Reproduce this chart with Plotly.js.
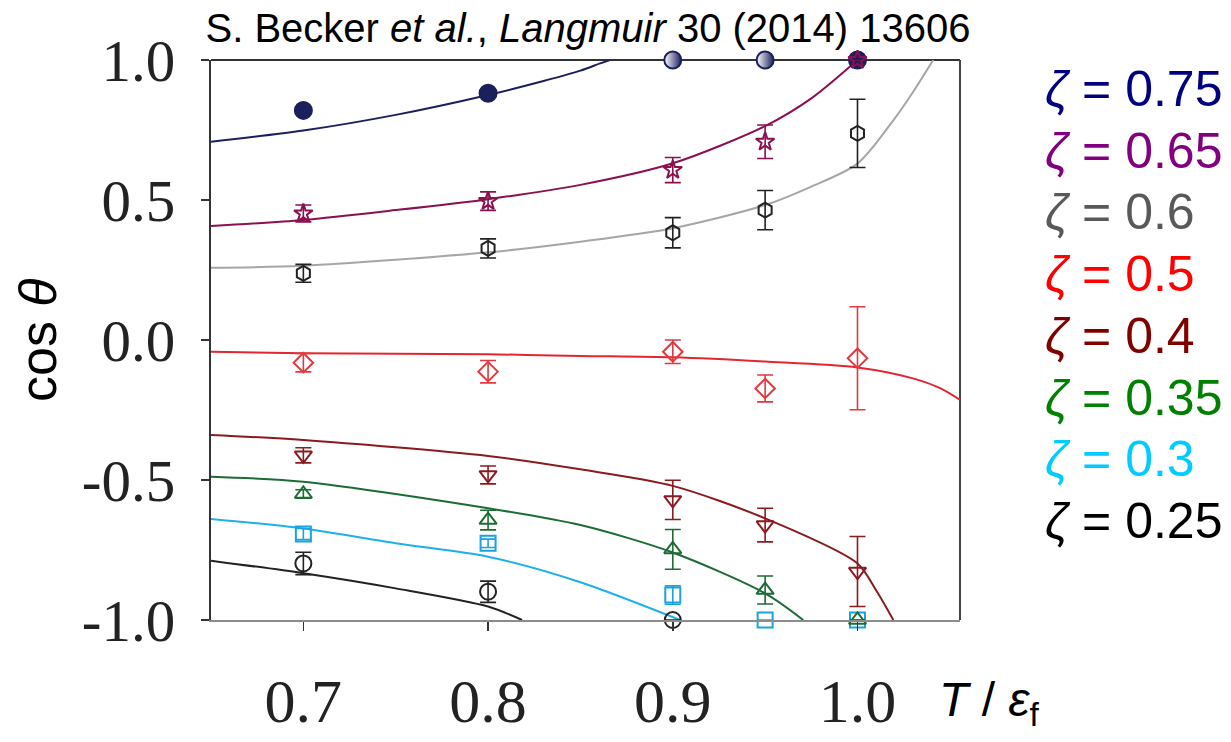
<!DOCTYPE html>
<html>
<head>
<meta charset="utf-8">
<script src="https://cdn.plot.ly/plotly-3.0.1.min.js"></script>
<style>html,body{margin:0;padding:0;background:#fff;}#chart{width:1231px;height:742px;}</style>
</head>
<body>
<div id="chart"></div>
<script>
// ---- data ----
var T_pts = [0.7, 0.8, 0.9, 0.95, 1.0];
var T_pts025 = [0.7, 0.8, 0.9];

var z075_y = [0.82, 0.881, 1.0, 1.0, 1.0];
var z065_y = [0.452, 0.496, 0.607, 0.708, 1.0];
var z065_e = [0.03, 0.033, 0.045, 0.06, 0];
var z060_y = [0.238, 0.327, 0.383, 0.464, 0.738];
var z060_e = [0.032, 0.034, 0.054, 0.07, 0.122];
var z050_y = [-0.081, -0.113, -0.042, -0.173, -0.065];
var z050_e = [0.033, 0.04, 0.042, 0.048, 0.184];
var z040_y = [-0.412, -0.482, -0.571, -0.661, -0.827];
var z040_e = [0.027, 0.032, 0.07, 0.06, 0.125];
var z035_y = [-0.55, -0.643, -0.748, -0.893, -1.0];
var z035_e = [0.015, 0.035, 0.071, 0.05, 0];
var z030_y = [-0.693, -0.726, -0.911, -1.0, -1.0];
var z030_e = [0.02, 0.015, 0.033, 0, 0];
var z025_y = [-0.798, -0.899, -1.0];
var z025_e = [0.04, 0.038, 0];

// fitted curves
var fit075_x = [0.65, 0.7, 0.75, 0.8, 0.83, 0.85, 0.8607, 0.866];
var fit075_y = [0.708, 0.748, 0.804, 0.875, 0.925, 0.962, 0.988, 1.0];
var fit065_x = [0.65, 0.7, 0.75, 0.8, 0.85, 0.9, 0.95, 0.975, 1.0];
var fit065_y = [0.407, 0.429, 0.464, 0.503, 0.554, 0.631, 0.764, 0.863, 1.0];
var fit060_x = [0.65, 0.7, 0.8, 0.85, 0.9, 0.95, 0.975, 1.0, 1.02, 1.03, 1.041];
var fit060_y = [0.258, 0.265, 0.313, 0.351, 0.399, 0.482, 0.548, 0.63, 0.79, 0.885, 1.0];
var fit050_x = [0.65, 0.7, 0.8, 0.85, 0.9, 0.95, 1.0, 1.03, 1.045, 1.0555];
var fit050_y = [-0.042, -0.047, -0.051, -0.057, -0.062, -0.077, -0.098, -0.137, -0.173, -0.214];
var fit040_x = [0.65, 0.7, 0.8, 0.85, 0.9, 0.95, 1.0, 1.01, 1.0194];
var fit040_y = [-0.339, -0.357, -0.414, -0.462, -0.521, -0.637, -0.798, -0.893, -1.0];
var fit035_x = [0.65, 0.7, 0.8, 0.85, 0.9, 0.95, 0.9706];
var fit035_y = [-0.488, -0.506, -0.601, -0.661, -0.759, -0.905, -1.0];
var fit030_x = [0.65, 0.7, 0.75, 0.8, 0.85, 0.904];
var fit030_y = [-0.639, -0.673, -0.726, -0.774, -0.865, -1.0];
var fit025_x = [0.65, 0.7, 0.75, 0.8, 0.8184];
var fit025_y = [-0.788, -0.833, -0.887, -0.952, -1.0];

var xTickVals = [0.7, 0.8, 0.9, 1.0];
var xTickText = ['0.7', '0.8', '0.9', '1.0'];
var yTickVals = [-1.0, -0.5, 0.0, 0.5, 1.0];
var yTickText = ['-1.0', '-0.5', '0.0', '0.5', '1.0'];

var legendLabels = ['0.75', '0.65', '0.6', '0.5', '0.4', '0.35', '0.3', '0.25'];
var legendColors = ['#000080', '#800080', '#595959', '#ff0000', '#800000', '#008000', '#00ccff', '#000000'];

// ---- plot ----
var L = 211, R = 960, TOP = 60, BOT = 620;
function px(xp) { return (xp - L) / (R - L); }
function py(yp) { return (BOT - yp) / (BOT - TOP); }

function curve(x, y, color) {
  return {x: x, y: y, type: 'scatter', mode: 'lines', showlegend: false, hoverinfo: 'skip',
          line: {color: color, width: 2, shape: 'spline', smoothing: 0.8}};
}
function pts(x, y, e, color, symbol, size) {
  var t = {x: x, y: y, type: 'scatter', mode: 'markers', showlegend: false, cliponaxis: false,
           marker: {symbol: symbol, size: size, color: color, line: {color: color, width: 2}}};
  if (e) t.error_y = {type: 'data', array: e, visible: true, color: color, thickness: 1.6, width: 8};
  return t;
}

var NAVY = '#1b1f5c';
var traces = [
  curve(fit025_x, fit025_y, '#222222'),
  curve(fit030_x, fit030_y, '#1fb0ec'),
  curve(fit035_x, fit035_y, '#1d6b35'),
  curve(fit040_x, fit040_y, '#8b1a1e'),
  curve(fit050_x, fit050_y, '#e3262f'),
  curve(fit060_x, fit060_y, '#a6a6a6'),
  curve(fit065_x, fit065_y, '#8b1050'),
  curve(fit075_x, fit075_y, NAVY),
  pts(T_pts025, z025_y, z025_e, '#222222', 'circle-open', 16),
  pts(T_pts, z030_y, z030_e, '#1aa3dc', 'square-open', 15),
  pts(T_pts, z035_y, z035_e, '#1d6b35', 'triangle-up-open', 15),
  pts(T_pts, z040_y, z040_e, '#8b1a1e', 'triangle-down-open', 15),
  pts(T_pts, z050_y, z050_e, '#e0393f', 'diamond-open', 15),
  pts(T_pts, z060_y, z060_e, '#222222', 'hexagon-open', 15),
  {x: T_pts, y: z075_y, type: 'scatter', mode: 'markers', showlegend: false, cliponaxis: false,
   marker: {symbol: 'circle', size: 17, color: [NAVY, NAVY, '#ffffff', '#ffffff', NAVY],
            gradient: {type: ['none', 'none', 'horizontal', 'horizontal', 'none'], color: NAVY},
            line: {color: NAVY, width: 2}}},
  pts(T_pts, z065_y, z065_e, '#8b1050', 'star-open', 14)
];

var annotations = [
  {xref: 'paper', yref: 'paper', x: px(38), y: py(340), text: 'cos <i>θ</i>', showarrow: false,
   textangle: -90, xanchor: 'center', yanchor: 'middle',
   font: {family: 'Liberation Sans, Arial, sans-serif', size: 52, color: '#000'}},
  {xref: 'paper', yref: 'paper', x: px(937), y: py(703), text: '<i>T</i> / <i>ε</i><sub>f</sub>', showarrow: false,
   xanchor: 'left', yanchor: 'middle',
   font: {family: 'Liberation Sans, Arial, sans-serif', size: 48, color: '#000'}}
];
for (var i = 0; i < legendLabels.length; i++) {
  annotations.push({xref: 'paper', yref: 'paper', x: px(1043), y: py(89 + i * 61.7),
    text: '<i>ζ</i> = ' + legendLabels[i], showarrow: false, xanchor: 'left', yanchor: 'middle',
    font: {family: 'Liberation Sans, Arial, sans-serif', size: 50, color: legendColors[i]}});
}

var layout = {
  width: 1231, height: 742,
  margin: {l: L, r: 1231 - R, t: TOP, b: 742 - BOT, pad: 0},
  paper_bgcolor: '#ffffff', plot_bgcolor: '#ffffff',
  showlegend: false,
  title: {text: 'S. Becker <i>et al.</i>, <i>Langmuir</i> 30 (2014) 13606',
          font: {family: 'Liberation Sans, Arial, sans-serif', size: 40, color: '#000'},
          x: 588 / 1231, xanchor: 'center', y: 1 - 28 / 742, yanchor: 'middle'},
  xaxis: {range: [0.65, 1.0555], tickmode: 'array', tickvals: xTickVals, ticktext: xTickText,
          ticks: 'outside', ticklen: 9, tickwidth: 1.5, tickcolor: '#333',
          showline: true, linecolor: '#8c8c8c', linewidth: 2, showgrid: false, zeroline: false,
          ticklabelstandoff: 17,
          tickfont: {family: 'Liberation Serif, Times New Roman, serif', size: 62, color: '#222'}},
  yaxis: {range: [-1, 1], tickmode: 'array', tickvals: yTickVals, ticktext: yTickText,
          ticks: 'outside', ticklen: 8, tickwidth: 1.5, tickcolor: '#333',
          showline: true, linecolor: '#333', linewidth: 2, showgrid: false, zeroline: false,
          ticklabelstandoff: 14,
          tickfont: {family: 'Liberation Serif, Times New Roman, serif', size: 59, color: '#222'}},
  shapes: [
    {type: 'line', xref: 'paper', yref: 'paper', x0: 0, x1: 1, y0: 1, y1: 1, line: {color: '#333', width: 2}, layer: 'below'},
    {type: 'line', xref: 'paper', yref: 'paper', x0: 1, x1: 1, y0: 0, y1: 1, line: {color: '#444', width: 2}, layer: 'below'}
  ],
  annotations: annotations
};

Plotly.newPlot('chart', traces, layout, {staticPlot: true, displayModeBar: false});
</script>
</body>
</html>
